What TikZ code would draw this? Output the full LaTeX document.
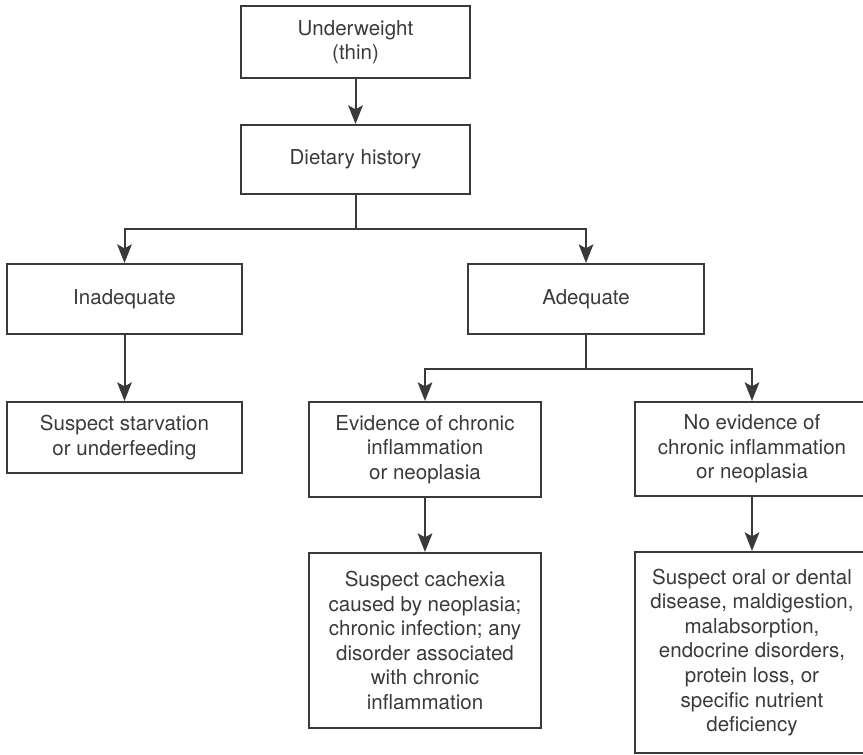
\documentclass[tikz,border=0pt]{standalone}
\usepackage{fontspec}
\setmainfont{TeX Gyre Heros}
\usetikzlibrary{arrows.meta}
\definecolor{ink}{HTML}{3A3A3A}

\begin{document}
\begin{tikzpicture}[x=0.75pt,y=-0.75pt,
    box/.style={draw=ink, line width=1.5pt, text=ink, align=center,
                inner sep=0pt, font=\fontsize{15.4}{18.4}\selectfont},
    edge/.style={draw=ink, line width=1.5pt,
                 -{Stealth[length=14pt,width=11pt,inset=3pt]}},
    link/.style={draw=ink, line width=1.5pt}]

        \clip (0,0) rectangle (863,755);

        % top of the tree
        \node[box, minimum width=171.75pt, minimum height=54pt]  (thin)  at (355.5,42)   {Underweight\\(thin)};
        \node[box, minimum width=171.75pt, minimum height=51.75pt] (diet) at (355.5,159.5) {Dietary history};

        % intake
        \node[box, minimum width=176.25pt, minimum height=52.5pt] (inad)  at (124.5,299) {Inadequate};
        \node[box, minimum width=177pt,    minimum height=52.5pt] (adeq)  at (586,299)   {Adequate};
        \node[box, minimum width=176.25pt, minimum height=53.25pt] (starv) at (124.5,437.5) {Suspect starvation\\or underfeeding};

        % adequate intake
        \node[box, minimum width=174pt,  minimum height=71.25pt] (infl)   at (425,449.5) {Evidence of chronic\\inflammation\\or neoplasia};
        \node[box, minimum width=175.5pt, minimum height=70.5pt] (noinfl) at (752,449)   {No evidence of\\chronic inflammation\\or neoplasia};
        \node[box, minimum width=174pt,  minimum height=131.25pt] (cachex) at (425,640.5) {Suspect cachexia\\caused by neoplasia;\\chronic infection; any\\disorder associated\\with chronic\\inflammation};
        \node[box, minimum width=175.5pt, minimum height=150.75pt] (oral)  at (752,652.5) {Suspect oral or dental\\disease, maldigestion,\\malabsorption,\\endocrine disorders,\\protein loss, or\\specific nutrient\\deficiency};

        \coordinate (split1) at (355.5,229);
        \coordinate (split2) at (586,369);

        \draw[edge] (thin) -- (diet); %
        \draw[link] (diet) -- (split1);
        \draw[edge] (split1) -| (inad);
        \draw[edge] (split1) -| (adeq);
        \draw[edge] (inad) -- (starv); %

        \draw[link] (adeq) -- (split2);
        \draw[edge] (split2) -| (infl);
        \draw[edge] (split2) -| (noinfl);
        \draw[edge] (infl) -- (cachex); %
        \draw[edge] (noinfl) -- (oral); %

\end{tikzpicture}
\end{document}
